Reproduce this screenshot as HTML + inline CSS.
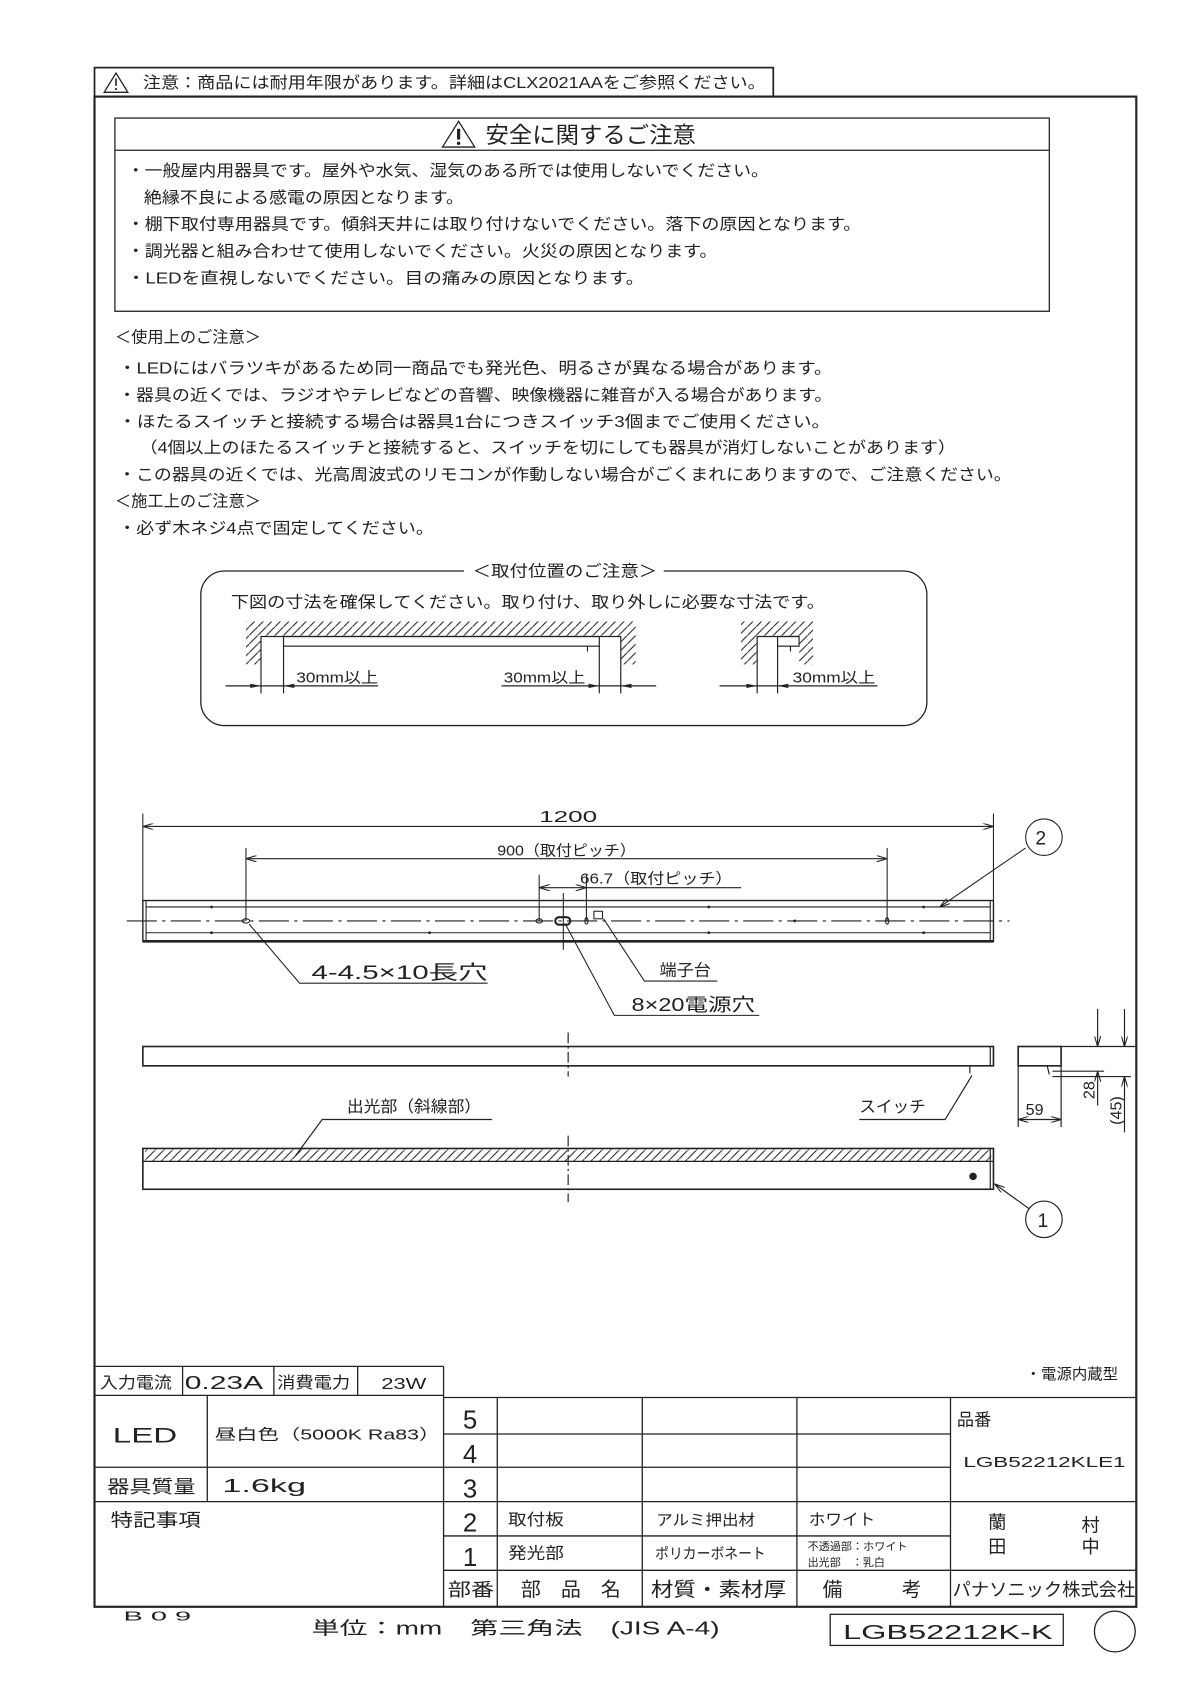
<!DOCTYPE html>
<html><head><meta charset="utf-8"><style>
html,body{margin:0;padding:0;background:#fff}
svg{display:block}
text{font-family:"Liberation Sans","Noto Sans CJK JP",sans-serif;fill:#222}
</style></head><body>
<svg width="1190" height="1683" viewBox="0 0 1108 1568" preserveAspectRatio="none" xmlns="http://www.w3.org/2000/svg">
<defs>
<pattern id="h" width="8" height="8" patternUnits="userSpaceOnUse"><path d="M-2,10 L10,-2" stroke="#222" stroke-width="1"/></pattern>
<marker id="a" markerWidth="10" markerHeight="6" refX="10" refY="3" orient="auto-start-reverse" markerUnits="userSpaceOnUse"><path d="M0,0 L10,3 L0,6" fill="none" stroke="#222" stroke-width="1"/></marker>
</defs>
<g fill="none" stroke="#222" stroke-width="1.2">
<rect x="88" y="63" width="632" height="27" stroke-width="1.6"/>
<rect x="88" y="90" width="970" height="1407" stroke-width="2"/>
<rect x="107" y="110" width="870" height="180"/>
<line x1="107" y1="140" x2="977" y2="140"/>
<path d="M97,86 L108,68 L119,86 Z"/>
<path d="M412,137 L427,113 L442,137 Z"/>
<rect x="187" y="532" width="676" height="144" rx="22"/>
</g>
<line x1="108" y1="73" x2="108" y2="80" stroke="#222" stroke-width="1.5"/>
<circle cx="108" cy="83" r="1" fill="#222"/>
<line x1="427" y1="120" x2="427" y2="130" stroke="#222" stroke-width="3"/>
<circle cx="427" cy="133.5" r="1.6" fill="#222"/>
<text x="133" y="82" font-size="15" textLength="580" lengthAdjust="spacingAndGlyphs">注意：商品には耐用年限があります。詳細はCLX2021AAをご参照ください。</text>
<text x="452" y="133" font-size="21" textLength="196" lengthAdjust="spacingAndGlyphs">安全に関するご注意</text>
<g font-size="15">
<text x="118" y="164" textLength="598" lengthAdjust="spacingAndGlyphs">・一般屋内用器具です。屋外や水気、湿気のある所では使用しないでください。</text>
<text x="134" y="189" textLength="298" lengthAdjust="spacingAndGlyphs">絶縁不良による感電の原因となります。</text>
<text x="118" y="214" textLength="684" lengthAdjust="spacingAndGlyphs">・棚下取付専用器具です。傾斜天井には取り付けないでください。落下の原因となります。</text>
<text x="118" y="239" textLength="550" lengthAdjust="spacingAndGlyphs">・調光器と組み合わせて使用しないでください。火災の原因となります。</text>
<text x="118" y="264" textLength="482" lengthAdjust="spacingAndGlyphs">・LEDを直視しないでください。目の痛みの原因となります。</text>
<text x="107" y="319" textLength="136" lengthAdjust="spacingAndGlyphs">＜使用上のご注意＞</text>
<text x="110" y="348" textLength="665" lengthAdjust="spacingAndGlyphs">・LEDにはバラツキがあるため同一商品でも発光色、明るさが異なる場合があります。</text>
<text x="110" y="373" textLength="665" lengthAdjust="spacingAndGlyphs">・器具の近くでは、ラジオやテレビなどの音響、映像機器に雑音が入る場合があります。</text>
<text x="110" y="398" textLength="663" lengthAdjust="spacingAndGlyphs">・ほたるスイッチと接続する場合は器具1台につきスイッチ3個までご使用ください。</text>
<text x="130" y="422" textLength="760" lengthAdjust="spacingAndGlyphs">（4個以上のほたるスイッチと接続すると、スイッチを切にしても器具が消灯しないことがあります）</text>
<text x="110" y="447" textLength="832" lengthAdjust="spacingAndGlyphs">・この器具の近くでは、光高周波式のリモコンが作動しない場合がごくまれにありますので、ご注意ください。</text>
<text x="107" y="472" textLength="136" lengthAdjust="spacingAndGlyphs">＜施工上のご注意＞</text>
<text x="110" y="497" textLength="294" lengthAdjust="spacingAndGlyphs">・必ず木ネジ4点で固定してください。</text>
</g>
<rect x="432" y="522" width="186" height="18" fill="#fff"/>
<text x="440" y="537" font-size="15" textLength="172" lengthAdjust="spacingAndGlyphs">＜取付位置のご注意＞</text>
<text x="215" y="566" font-size="15" textLength="553" lengthAdjust="spacingAndGlyphs">下図の寸法を確保してください。取り付け、取り外しに必要な寸法です。</text>
<rect x="229" y="579" width="363" height="14" fill="url(#h)"/>
<rect x="229" y="593" width="14" height="26" fill="url(#h)"/>
<rect x="578" y="593" width="14" height="26" fill="url(#h)"/>
<rect x="264" y="593" width="294" height="9" fill="#fff"/>
<rect x="690" y="579" width="67" height="14" fill="url(#h)"/>
<rect x="690" y="593" width="15" height="26" fill="url(#h)"/>
<rect x="744" y="593" width="13" height="26" fill="url(#h)"/>
<g fill="none" stroke="#222" stroke-width="1.1">
<path d="M243,646 V593 H578 V646"/>
<rect x="264" y="593" width="294" height="9"/>
<line x1="264" y1="602" x2="264" y2="646"/><line x1="558" y1="602" x2="558" y2="646"/>
<line x1="547" y1="602" x2="547" y2="607"/>
<line x1="210" y1="639" x2="352" y2="639"/><line x1="467" y1="639" x2="611" y2="639"/>
<path d="M705,646 V593 H744"/>
<rect x="724" y="593" width="20" height="9"/>
<line x1="724" y1="602" x2="724" y2="646"/><line x1="736" y1="602" x2="736" y2="607"/>
<line x1="670" y1="639" x2="817" y2="639"/>
</g>
<g fill="#222"><path d="M243,639 l-10,-2 v4z"/><path d="M264,639 l10,-2 v4z"/><path d="M558,639 l-10,-2 v4z"/><path d="M578,639 l10,-2 v4z"/><path d="M705,639 l-10,-2 v4z"/><path d="M724,639 l10,-2 v4z"/></g>
<g font-size="14"><text x="276" y="636" textLength="76" lengthAdjust="spacingAndGlyphs">30mm以上</text>
<text x="469" y="636" textLength="76" lengthAdjust="spacingAndGlyphs">30mm以上</text>
<text x="738" y="636" textLength="77" lengthAdjust="spacingAndGlyphs">30mm以上</text></g>
<g fill="none" stroke="#222" stroke-width="1">
<line x1="133" y1="758" x2="133" y2="840"/><line x1="925" y1="758" x2="925" y2="840"/>
<line x1="133" y1="770" x2="925" y2="770" marker-start="url(#a)" marker-end="url(#a)"/>
<line x1="229" y1="790" x2="229" y2="858"/><line x1="826" y1="790" x2="826" y2="858"/>
<line x1="229" y1="800" x2="826" y2="800" marker-start="url(#a)" marker-end="url(#a)"/>
<line x1="502" y1="815" x2="502" y2="858"/><line x1="546" y1="815" x2="546" y2="858"/>
<line x1="502" y1="827" x2="546" y2="827" marker-start="url(#a)" marker-end="url(#a)"/>
<line x1="546" y1="827" x2="690" y2="827"/>
<rect x="133" y="839" width="792" height="38" stroke-width="1.3"/>
<line x1="133" y1="877" x2="925" y2="877" stroke-width="2.5"/>
<line x1="136" y1="839" x2="136" y2="877"/><line x1="922" y1="839" x2="922" y2="877"/>
<line x1="136" y1="845" x2="922" y2="845"/><line x1="136" y1="869" x2="922" y2="869"/>
<line x1="118" y1="858" x2="940" y2="858" stroke-dasharray="28,5,3,5"/>
<line x1="524.5" y1="832" x2="524.5" y2="885"/>
<ellipse cx="229" cy="858" rx="3.5" ry="2"/><ellipse cx="502" cy="858" rx="3" ry="2"/>
<rect x="517" y="854.5" width="14" height="7" rx="3.5" stroke-width="2"/>
<ellipse cx="546" cy="858" rx="1.5" ry="3"/><ellipse cx="826" cy="858" rx="1.5" ry="3"/>
<rect x="553" y="849" width="8" height="7"/>
<polyline points="232,861 279,916 454,916"/>
<polyline points="527,862 572,946 707,946"/>
<polyline points="562,856 600,914 668,914"/>
<line x1="955" y1="790" x2="875" y2="845" marker-end="url(#a)"/>
<circle cx="972" cy="780" r="17"/>
</g>
<g fill="#222"><circle cx="197" cy="845" r="1.3"/><circle cx="197" cy="869" r="1.3"/><circle cx="400" cy="869" r="1.3"/><circle cx="660" cy="869" r="1.3"/><circle cx="740" cy="858" r="1.3"/><circle cx="860" cy="845" r="1.3"/><circle cx="860" cy="869" r="1.3"/><circle cx="660" cy="845" r="1.3"/></g>
<g font-size="15">
<text x="502" y="766" textLength="54" lengthAdjust="spacingAndGlyphs">1200</text>
<text x="463" y="797" font-size="14" textLength="129" lengthAdjust="spacingAndGlyphs">900（取付ピッチ）</text>
<text x="540" y="823" font-size="14" textLength="142" lengthAdjust="spacingAndGlyphs">66.7（取付ピッチ）</text>
<text x="290" y="912" font-size="18" textLength="164" lengthAdjust="spacingAndGlyphs">4-4.5×10長穴</text>
<text x="614" y="909" textLength="48" lengthAdjust="spacingAndGlyphs">端子台</text>
<text x="588" y="942" font-size="17" textLength="115" lengthAdjust="spacingAndGlyphs">8×20電源穴</text>
<text x="964" y="787" font-size="18">2</text>
</g>
<g fill="none" stroke="#222" stroke-width="1.1">
<rect x="133" y="975" width="792" height="18" stroke-width="1.5"/>
<line x1="922" y1="975" x2="922" y2="993"/>
<line x1="529" y1="962" x2="529" y2="1003" stroke-dasharray="10,3,2,3"/>
<line x1="903" y1="993" x2="903" y2="1000"/>
<polyline points="800,1043 880,1043 905,1002" />
<rect x="948" y="975" width="40" height="18" stroke-width="1.5"/>
<line x1="975" y1="993" x2="977" y2="1001"/>
<line x1="948" y1="993" x2="948" y2="1050"/><line x1="988" y1="993" x2="988" y2="1050"/>
<line x1="948" y1="1043" x2="988" y2="1043" marker-start="url(#a)" marker-end="url(#a)"/>
<line x1="988" y1="975" x2="1058" y2="975"/>
<line x1="980" y1="998" x2="1028" y2="998"/><line x1="980" y1="1003" x2="1053" y2="1003"/>
<line x1="1022" y1="940" x2="1022" y2="975" marker-end="url(#a)"/>
<line x1="1022" y1="1030" x2="1022" y2="998" marker-end="url(#a)"/>
<line x1="1047" y1="940" x2="1047" y2="975" marker-end="url(#a)"/>
<line x1="1047" y1="1055" x2="1047" y2="1003" marker-end="url(#a)"/>
</g>
<text x="800" y="1036" font-size="15" textLength="62" lengthAdjust="spacingAndGlyphs">スイッチ</text>
<text x="955" y="1039" font-size="15">59</text>
<text transform="translate(1019,1024) rotate(-90)" font-size="15">28</text>
<text transform="translate(1044,1048) rotate(-90)" font-size="15">(45)</text>
<rect x="135" y="1071" width="788" height="11" fill="url(#h)"/>
<g fill="none" stroke="#222" stroke-width="1.1">
<rect x="133" y="1070" width="792" height="38" stroke-width="1.5"/>
<line x1="133" y1="1082" x2="925" y2="1082"/>
<line x1="922" y1="1070" x2="922" y2="1108"/>
<line x1="529" y1="1058" x2="529" y2="1120" stroke-dasharray="10,3,2,3"/>
<polyline points="458,1043 300,1043 275,1077"/>
<line x1="958" y1="1126" x2="926" y2="1103" marker-end="url(#a)"/>
<circle cx="972" cy="1136" r="17"/>
</g>
<circle cx="906" cy="1096" r="3.5" fill="#222"/>
<text x="323" y="1036" font-size="15" textLength="125" lengthAdjust="spacingAndGlyphs">出光部（斜線部）</text>
<text x="966" y="1143" font-size="18">1</text>
<g fill="none" stroke="#222" stroke-width="1.2">
<line x1="88" y1="1273" x2="413" y2="1273"/>
<line x1="413" y1="1273" x2="413" y2="1497"/>
<line x1="170" y1="1273" x2="170" y2="1300"/><line x1="255" y1="1273" x2="255" y2="1300"/><line x1="333" y1="1273" x2="333" y2="1300"/>
<line x1="88" y1="1300" x2="413" y2="1300"/>
<line x1="193" y1="1300" x2="193" y2="1399"/>
<line x1="88" y1="1367" x2="413" y2="1367"/>
<line x1="88" y1="1399" x2="413" y2="1399"/>
<line x1="413" y1="1302" x2="1058" y2="1302"/>
<line x1="413" y1="1336" x2="885" y2="1336"/>
<line x1="413" y1="1367" x2="885" y2="1367"/>
<line x1="413" y1="1399" x2="1058" y2="1399"/>
<line x1="413" y1="1431" x2="885" y2="1431"/>
<line x1="413" y1="1463" x2="1058" y2="1463"/>
<line x1="463" y1="1302" x2="463" y2="1497"/>
<line x1="598" y1="1302" x2="598" y2="1497"/>
<line x1="742" y1="1302" x2="742" y2="1497"/>
<line x1="885" y1="1302" x2="885" y2="1497"/>
<rect x="773" y="1504" width="217" height="29"/>
<circle cx="1038" cy="1520" r="19"/>
</g>
<g font-size="15">
<text x="955" y="1285" font-size="14" textLength="86" lengthAdjust="spacingAndGlyphs">・電源内蔵型</text>
<text x="93" y="1293" textLength="67" lengthAdjust="spacingAndGlyphs">入力電流</text>
<text x="172" y="1294" font-size="17" textLength="73" lengthAdjust="spacingAndGlyphs">0.23A</text>
<text x="258" y="1293" textLength="68" lengthAdjust="spacingAndGlyphs">消費電力</text>
<text x="355" y="1294" textLength="42" lengthAdjust="spacingAndGlyphs">23W</text>
<text x="105" y="1344" font-size="20" textLength="60" lengthAdjust="spacingAndGlyphs">LED</text>
<text x="200" y="1341" font-size="14" textLength="210" lengthAdjust="spacingAndGlyphs">昼白色（5000K Ra83）</text>
<text x="100" y="1391" font-size="17" textLength="82" lengthAdjust="spacingAndGlyphs">器具質量</text>
<text x="207" y="1390" font-size="17" textLength="78" lengthAdjust="spacingAndGlyphs">1.6kg</text>
<text x="103" y="1422" font-size="17" textLength="84" lengthAdjust="spacingAndGlyphs">特記事項</text>
<g font-size="24"><text x="431" y="1331">5</text><text x="431" y="1363">4</text><text x="431" y="1395">3</text><text x="431" y="1427">2</text><text x="431" y="1459">1</text></g>
<text x="417" y="1487" font-size="17" textLength="43" lengthAdjust="spacingAndGlyphs">部番</text>
<text x="485" y="1487" font-size="18" textLength="93" lengthAdjust="spacingAndGlyphs">部　品　名</text>
<text x="606" y="1487" font-size="18" textLength="126" lengthAdjust="spacingAndGlyphs">材質・素材厚</text>
<text x="766" y="1487" font-size="18" textLength="92" lengthAdjust="spacingAndGlyphs">備　　　考</text>
<text x="887" y="1487" font-size="17" textLength="170" lengthAdjust="spacingAndGlyphs">パナソニック株式会社</text>
<text x="891" y="1328" font-size="16">品番</text>
<text x="897" y="1367" font-size="14" textLength="151" lengthAdjust="spacingAndGlyphs">LGB52212KLE1</text>
<text x="473" y="1421" textLength="52" lengthAdjust="spacingAndGlyphs">取付板</text>
<text x="473" y="1452" textLength="52" lengthAdjust="spacingAndGlyphs">発光部</text>
<text x="611" y="1421" font-size="14" textLength="92" lengthAdjust="spacingAndGlyphs">アルミ押出材</text>
<text x="610" y="1452" font-size="14" textLength="103" lengthAdjust="spacingAndGlyphs">ポリカーボネート</text>
<text x="753" y="1421" textLength="62" lengthAdjust="spacingAndGlyphs">ホワイト</text>
<text x="752" y="1444" font-size="10" textLength="93" lengthAdjust="spacingAndGlyphs">不透過部：ホワイト</text>
<text x="752" y="1459" font-size="10" textLength="72" lengthAdjust="spacingAndGlyphs">出光部　：乳白</text>
<text x="920" y="1424" font-size="17">蘭</text><text x="920" y="1447" font-size="17">田</text>
<text x="1007" y="1427" font-size="17">村</text><text x="1007" y="1447" font-size="17">中</text>
<text x="115" y="1510" font-size="12" textLength="63" lengthAdjust="spacingAndGlyphs">B 0 9</text>
<text x="290" y="1523" font-size="17" textLength="380" lengthAdjust="spacingAndGlyphs">単位：mm　第三角法　(JIS A-4)</text>
<text x="785" y="1527" font-size="19" textLength="195" lengthAdjust="spacingAndGlyphs">LGB52212K-K</text>
</g>
</svg>
</body></html>
